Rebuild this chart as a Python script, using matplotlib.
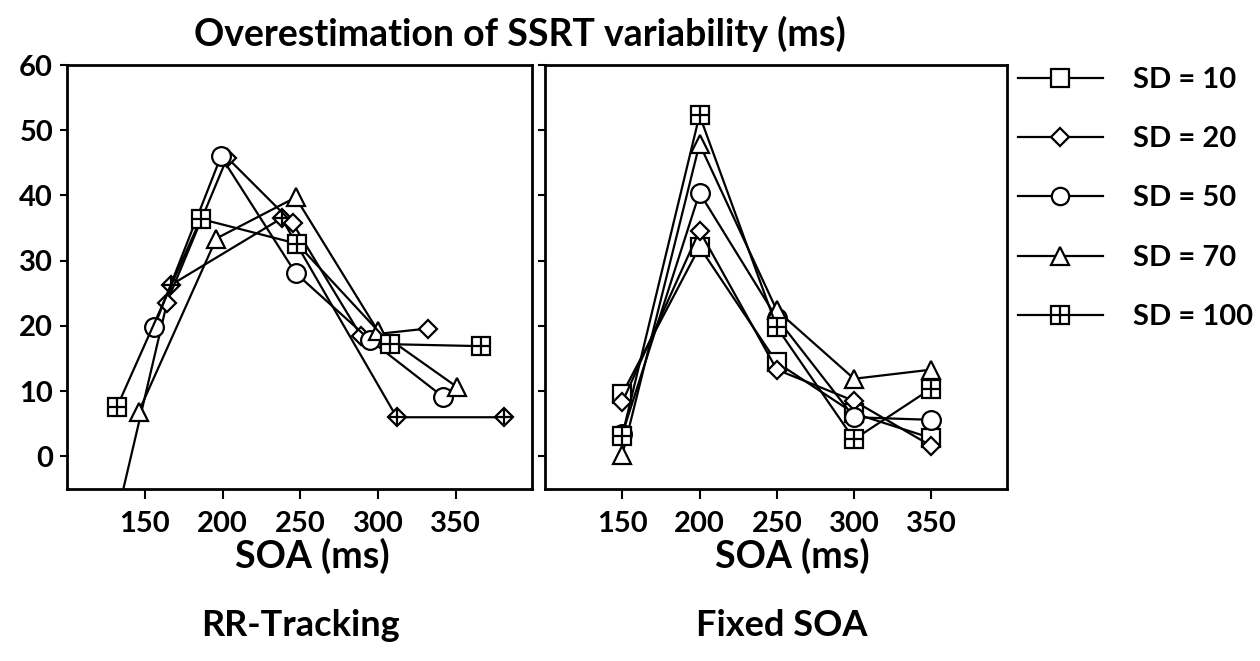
import matplotlib
matplotlib.use("Agg")
import matplotlib.pyplot as plt
from matplotlib.lines import Line2D
from matplotlib.legend_handler import HandlerTuple

plt.rcParams['font.family'] = ['Lato', 'DejaVu Sans']
plt.rcParams['font.weight'] = 'bold'

# ---------------- data ----------------
series_labels = ["SD = 10", "SD = 20", "SD = 50", "SD = 70", "SD = 100"]

# RR-Tracking: x = mean SOA per series, y = overestimation
rr_x_sd10 = [120, 167, 238, 312, 381]
rr_y_sd10 = [-21.5, 26.3, 36.5, 6.0, 6.0]
rr_x_sd20 = [164, 203, 245, 289, 332]
rr_y_sd20 = [23.5, 45.8, 35.8, 18.5, 19.6]
rr_x_sd50 = [156, 199, 247, 295, 342]
rr_y_sd50 = [19.8, 46.0, 28.1, 17.8, 9.1]
rr_x_sd70 = [146, 196, 247, 300, 351]
rr_y_sd70 = [6.8, 33.4, 39.7, 19.2, 10.6]
rr_x_sd100 = [132, 186, 248, 308, 366]
rr_y_sd100 = [7.5, 36.4, 32.6, 17.2, 16.9]

# Fixed SOA
fixed_x = [150, 200, 250, 300, 350]
fx_y_sd10 = [9.6, 32.1, 14.4, 6.6, 2.8]
fx_y_sd20 = [8.3, 34.6, 13.3, 8.5, 1.6]
fx_y_sd50 = [3.4, 40.4, 21.2, 6.0, 5.6]
fx_y_sd70 = [0.2, 47.9, 22.4, 11.9, 13.3]
fx_y_sd100 = [3.2, 52.3, 19.8, 2.6, 10.4]

xticks = [150, 200, 250, 300, 350]
yticks = [0, 10, 20, 30, 40, 50, 60]

# ---------------- figure ----------------
fig = plt.figure(figsize=(12.6, 6.61), dpi=100)
H = 661.0
W = 1260.0
ax1 = fig.add_axes([67 / W, 1 - 489 / H, 465 / W, 424 / H])
ax2 = fig.add_axes([545 / W, 1 - 489 / H, 462 / W, 424 / H])

lw = 1.6
mew = 1.6
ms = 13.5
common = dict(color='black', lw=lw, mfc='white', mec='black', mew=mew, clip_on=True)


def plot_plus(ax, x, y, size):
    ax.plot(x, y, ls='none', marker='+', ms=size, mec='black', mew=mew)


# Left panel
ax1.plot(rr_x_sd10, rr_y_sd10, marker='D', ms=9.4, **common)
plot_plus(ax1, rr_x_sd10, rr_y_sd10, 13.3)
ax1.plot(rr_x_sd20, rr_y_sd20, marker='D', ms=9.4, **common)
ax1.plot(rr_x_sd50, rr_y_sd50, marker='o', ms=ms, **common)
ax1.plot(rr_x_sd70, rr_y_sd70, marker='^', ms=ms, **common)
ax1.plot(rr_x_sd100, rr_y_sd100, marker='s', ms=ms, **common)
plot_plus(ax1, rr_x_sd100, rr_y_sd100, ms)

# Right panel
ax2.plot(fixed_x, fx_y_sd10, marker='s', ms=ms, **common)
ax2.plot(fixed_x, fx_y_sd20, marker='D', ms=9.4, **common)
ax2.plot(fixed_x, fx_y_sd50, marker='o', ms=ms, **common)
ax2.plot(fixed_x, fx_y_sd70, marker='^', ms=ms, **common)
ax2.plot(fixed_x, fx_y_sd100, marker='s', ms=ms, **common)
plot_plus(ax2, fixed_x, fx_y_sd100, ms)

for ax in (ax1, ax2):
    ax.set_xlim(100, 399)
    ax.set_ylim(-5, 60)
    ax.set_xticks(xticks)
    ax.set_yticks(yticks)
    for s in ax.spines.values():
        s.set_linewidth(2)
    ax.tick_params(axis='x', direction='out', length=7, width=1.5, pad=8.5, labelsize=21)
    ax.tick_params(axis='y', direction='out', length=5, width=1.5, pad=5, labelsize=21)

ax2.set_yticklabels([])

# Legend
small = dict(color='black', lw=lw, mfc='white', mec='black', mew=mew)
lh10 = Line2D([], [], marker='s', ms=12.5, **small)
lh20 = Line2D([], [], marker='D', ms=8.8, **small)
lh50 = Line2D([], [], marker='o', ms=12.5, **small)
lh70 = Line2D([], [], marker='^', ms=12.5, **small)
lh100a = Line2D([], [], marker='s', ms=12.5, **small)
lh100b = Line2D([], [], ls='none', marker='+', ms=12.5, mec='black', mew=mew)
fig.legend([lh10, lh20, lh50, lh70, (lh100a, lh100b)], series_labels,
           handler_map={tuple: HandlerTuple(ndivide=1)},
           loc='upper left', bbox_to_anchor=(1018 / W, 1 - 67 / H),
           frameon=False, fontsize=21, handlelength=2.9, handletextpad=1.05,
           labelspacing=1.14, borderpad=0, borderaxespad=0)

# Texts
fig.text(520 / W, 1 - 34 / H, "Overestimation of SSRT variability (ms)",
         ha='center', va='center', fontsize=27)
fig.text(312 / W, 1 - 556 / H, "SOA (ms)", ha='center', va='center', fontsize=27)
fig.text(300 / W, 1 - 626 / H, "RR-Tracking", ha='center', va='center', fontsize=26)
fig.text(792 / W, 1 - 556 / H, "SOA (ms)", ha='center', va='center', fontsize=27)
fig.text(782 / W, 1 - 626 / H, "Fixed SOA", ha='center', va='center', fontsize=26)

fig.savefig("out.png", dpi=100)
